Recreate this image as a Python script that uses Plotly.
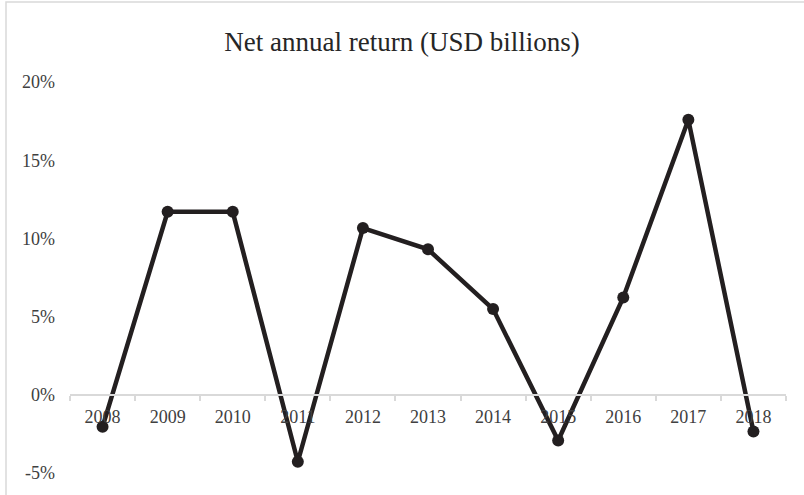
import plotly.graph_objects as go

years = ["2008", "2009", "2010", "2011", "2012", "2013", "2014", "2015", "2016", "2017", "2018"]
returns = [-0.0205, 0.117, 0.117, -0.0428, 0.1066, 0.093, 0.0548, -0.0292, 0.0622, 0.1758, -0.0235]
y_tickvals = [-0.05, 0.0, 0.05, 0.10, 0.15, 0.20]
y_ticktext = ["-5%", "0%", "5%", "10%", "15%", "20%"]

FONT = "Liberation Serif"
ymin, ymax = -0.05, 0.20

fig = go.Figure()
fig.add_trace(go.Scatter(
    x=years, y=returns, mode="lines+markers",
    line=dict(color="#231f20", width=4.5),
    marker=dict(color="#231f20", size=12),
    showlegend=False, cliponaxis=False,
))

fig.update_layout(
    width=804, height=495,
    margin=dict(l=70, r=18, t=82, b=22),
    paper_bgcolor="white", plot_bgcolor="white",
    font=dict(family=FONT, color="#404040", size=18),
    title=dict(text="Net annual return (USD billions)", x=0.5, xanchor="center",
               y=1 - 42 / 495, yanchor="middle",
               font=dict(family=FONT, size=27, color="#262626")),
    xaxis=dict(
        type="category", range=[-0.5, len(years) - 0.5],
        anchor="free", position=(0 - ymin) / (ymax - ymin),
        showline=True, linecolor="#d9d9d9", linewidth=1.5,
        ticks="outside", tickson="boundaries", tickcolor="#d9d9d9", ticklen=5, tickwidth=1.5,
        showgrid=False, zeroline=False, ticklabelstandoff=6,
        tickfont=dict(family=FONT, size=18, color="#404040"),
    ),
    yaxis=dict(
        range=[ymin, ymax], tickvals=y_tickvals, ticktext=y_ticktext,
        showgrid=False, zeroline=False, showline=False, ticks="",
        ticklabelstandoff=14,
        tickfont=dict(family=FONT, size=18, color="#404040"),
    ),
    shapes=[dict(type="rect", xref="paper", yref="paper",
                 x0=-64 / 716, x1=1 + 40 / 716, y0=-40 / 391, y1=1 + 80 / 391,
                 line=dict(color="#d9d9d9", width=1.5), fillcolor="rgba(0,0,0,0)", layer="below")],
)

fig.write_html("out.html")
